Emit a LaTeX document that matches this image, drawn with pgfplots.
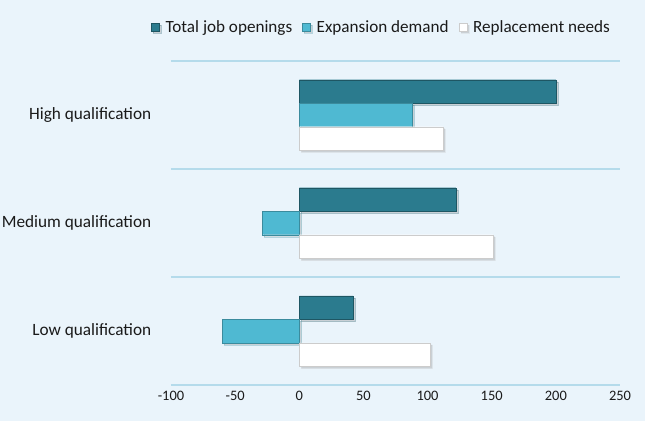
\documentclass[border=0pt]{standalone}
\usepackage{pgfplots}
\pgfplotsset{compat=1.18}
\usepackage{fontspec}
\setmainfont{Carlito}
\usetikzlibrary{shadows}
\definecolor{bgc}{HTML}{EAF4FB}
\definecolor{gridc}{HTML}{B5DBEB}
\definecolor{darkteal}{HTML}{2B7B8E}
\definecolor{lightteal}{HTML}{4FB9D2}
\definecolor{txt}{HTML}{1A1A1A}
\begin{document}
\begin{tikzpicture}
\fill[bgc] (-171bp,-36bp) rectangle (474bp,385bp);
\path[use as bounding box] (-171bp,-36bp) rectangle (474bp,385bp);
\begin{axis}[
  at={(0,0)}, anchor=south west,
  scale only axis, width=449bp, height=324bp,
  xbar, bar width=23.5bp,
  xmin=-100, xmax=250,
  ymin=-0.5, ymax=2.5,
  xtick={-100,-50,0,50,100,150,200,250},
  ytick={0,1,2},
  yticklabels={Low qualification,Medium qualification,High qualification},
  extra y ticks={-0.5,0.5,1.5,2.5},
  extra y tick labels={},
  extra y tick style={grid=major, major grid style={gridc, line width=1.5pt}, tick style={draw=none}},
  axis line style={draw=none},
  tick style={draw=none},
  xticklabel style={font=\fontsize{14.5}{16}\selectfont, text=txt, yshift=-3bp},
  yticklabel style={font=\fontsize{17.3}{19}\selectfont, text=txt, xshift=-12bp},
  /pgf/number format/assume math mode=true,
  legend style={at={(0.469,1)}, anchor=center, yshift=34bp, draw=none, fill=none,
    legend columns=-1, font=\fontsize{17.2}{19}\selectfont, text=txt,
    /tikz/every even column/.append style={column sep=8bp}},
  legend image code/.code={\draw[#1, drop shadow={opacity=0}] (0bp,-4.5bp) rectangle (8bp,3.5bp);
    \path (12bp,0);},
]
\addplot[draw=darkteal!70!black, fill=darkteal, bar shift=23.5bp,
  drop shadow={shadow xshift=2bp, shadow yshift=-2bp, opacity=0.3}]
  coordinates {(42,0) (122,1) (200,2)};
\addplot[draw=lightteal!75!black, fill=lightteal, bar shift=0bp,
  drop shadow={shadow xshift=2bp, shadow yshift=-2bp, opacity=0.3}]
  coordinates {(-60,0) (-29,1) (88,2)};
\addplot[draw=gray!40, fill=white, bar shift=-23.5bp,
  drop shadow={shadow xshift=2bp, shadow yshift=-2bp, opacity=0.3}]
  coordinates {(102,0) (151,1) (112,2)};
\legend{Total job openings, Expansion demand, Replacement needs}
\end{axis}
\end{tikzpicture}
\end{document}
